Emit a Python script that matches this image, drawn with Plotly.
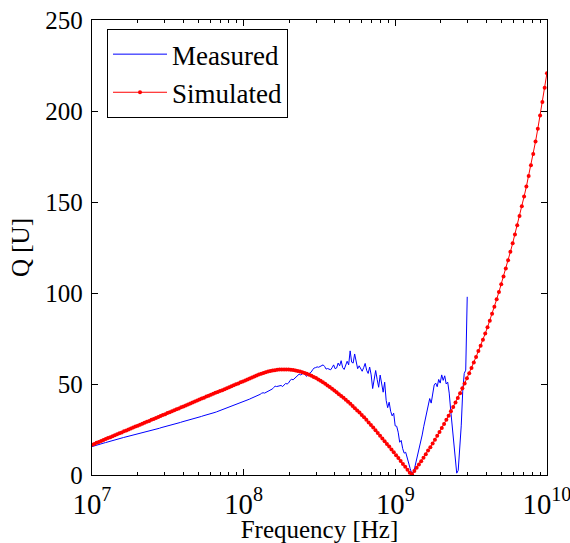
import numpy as np
import plotly.graph_objects as go

# simulated sweep: 200 log-spaced points, 10 MHz .. 10 GHz
freq_sim = np.logspace(7, 10, 200)
q_sim = [
    16.6, 17.1, 17.7, 18.2, 18.7, 19.2, 19.8, 20.3, 20.8, 21.3, 21.9, 22.4, 22.9, 23.4, 24.0, 24.5,
    25.0, 25.5, 26.1, 26.6, 27.1, 27.6, 28.2, 28.7, 29.2, 29.7, 30.3, 30.8, 31.3, 31.8, 32.4,
    32.9, 33.4, 34.0, 34.5, 35.0, 35.6, 36.1, 36.6, 37.2, 37.7, 38.2, 38.8, 39.3, 39.9, 40.4,
    40.9, 41.5, 42.0, 42.5, 43.1, 43.6, 44.1, 44.7, 45.2, 45.6,
    46.1, 46.6, 47.1, 47.6, 48.2, 48.7, 49.3, 49.8, 50.3, 50.9, 51.4, 51.9, 52.5, 53.0, 53.6,
    54.1, 54.7, 55.2, 55.7, 56.1, 56.5, 56.8, 57.1, 57.4, 57.6, 57.8, 57.9, 58.0, 58.0,
    58.0, 57.9, 57.8, 57.7, 57.4, 57.2, 56.9, 56.5, 56.1, 55.6, 55.1, 54.6, 53.9, 53.3, 52.5, 51.8,
    51.0, 50.1, 49.2, 48.3, 47.4, 46.4, 45.4, 44.4, 43.4, 42.4, 41.3, 40.2, 39.1, 37.9, 36.7,
    35.5, 34.3, 33.0, 31.7, 30.3, 28.9, 27.5, 26.1, 24.6, 23.1, 21.6, 20.1, 18.6, 17.1, 15.6,
    14.0, 12.5, 10.9, 9.3, 7.7, 6.1, 4.5, 2.9, 1.3, 0.4,
    2.2, 4.0, 5.8, 7.6, 9.5, 11.4, 13.4, 15.3, 17.3, 19.4, 21.5, 23.6, 25.8, 28.0, 30.3, 32.6,
    35.0, 37.4, 39.8, 42.3, 44.9, 47.6, 50.3, 53.1, 55.9, 58.8, 61.8, 64.9, 68.1,
    71.0, 74.3, 77.7, 81.2, 84.8, 88.6, 92.5, 96.5, 100.6, 104.8, 109.1, 113.5, 118.0, 122.6,
    127.3, 132.2, 137.2, 142.3, 147.6, 153.0, 158.5, 164.3, 170.2, 176.4, 183.2, 190.2, 197.5,
    205.0, 212.8, 220.8,
]

# measured: 251 log-spaced points, 10 MHz .. 2.98 GHz
freq_meas = np.logspace(7, np.log10(2.98e9), 251)
q_meas = [
    15.6, 15.9, 16.1, 16.4, 16.6, 16.9, 17.1, 17.3, 17.6, 17.8, 18.0, 18.3, 18.5, 18.8, 19.0,
    19.2, 19.5, 19.7, 19.9, 20.2, 20.4,
    20.6, 20.8, 21.0, 21.3, 21.5, 21.7, 21.9, 22.1, 22.3, 22.5, 22.7, 22.9, 23.1, 23.4, 23.6,
    23.8, 24.0, 24.2, 24.4, 24.6, 24.8, 25.0,
    25.3, 25.5, 25.7, 26.0, 26.2, 26.4, 26.6, 26.9, 27.1, 27.3, 27.6, 27.8, 28.0, 28.3, 28.5,
    28.7, 28.9, 29.2, 29.4, 29.6, 29.9, 30.1,
    30.3, 30.6, 30.8, 31.1, 31.3, 31.5, 31.8, 32.0, 32.2, 32.5, 32.7, 33.0, 33.2, 33.4, 33.7,
    33.9, 34.1, 34.4,
    34.7, 35.0, 35.4, 35.7, 36.0, 36.4, 36.7, 37.1, 37.4,
    37.6, 37.9, 38.2, 38.5, 38.8, 39.1, 39.3, 39.6, 39.9, 40.2, 40.5,
    40.9, 41.3, 41.7, 42.1, 42.4, 42.8, 43.2, 43.6, 44.0,
    44.3, 44.9, 45.2, 45.0, 45.4, 46.0, 46.3, 46.5, 47.2, 48.0, 48.8, 48.6, 48.9, 49.3, 49.2,
    48.6, 49.5, 50.3, 50.0, 50.6,
    52.0, 52.6, 52.3, 53.0, 53.6, 54.4, 55.4, 55.0, 55.6, 56.0, 55.0, 54.2, 55.3, 55.8, 56.5,
    57.8, 58.8, 59.0, 59.4, 59.2,
    59.8, 60.2, 60.5, 59.6, 58.2, 58.5, 57.9, 57.8, 59.0, 60.5, 58.4, 58.8, 61.5, 60.0, 62.8,
    59.0, 58.0, 61.0, 62.5, 60.5,
    68.2, 62.0, 61.5, 66.5, 62.0, 58.4, 60.0, 58.6, 57.0, 59.0, 61.3, 57.5, 55.8, 59.3, 55.0,
    47.5, 52.0, 57.4, 52.5, 48.2,
    54.9, 50.0, 45.5, 51.0, 41.0, 37.0, 40.0, 35.0, 32.5, 34.0, 27.0, 26.8, 23.5, 18.0, 19.0,
    14.5, 12.0, 12.5, 9.0, 5.5,
    3.5, 1.0, 1.5, 4.0, 7.5, 10.5, 14.5, 19.0, 22.0, 26.5, 30.5, 35.5, 39.0, 42.0, 39.5,
    46.0, 49.5, 50.5, 48.5, 52.5,
    50.5, 55.0, 52.0, 54.5, 50.0, 51.0, 45.0, 35.5, 26.0, 16.0, 7.5, 1.0, 2.5, 12.5, 27.0,
    46.0, 55.8, 57.6, 97.9,
]

fonte = dict(family='Liberation Serif', size=25, color='black')

fig = go.Figure()
fig.add_trace(go.Scatter(
    x=freq_meas,
    y=q_meas,
    name='Measured',
    mode='lines',
    line=dict(color='#0000ff', width=1)
))
fig.add_trace(go.Scatter(
    x=freq_sim,
    y=q_sim,
    name='Simulated',
    mode='lines+markers',
    line=dict(color='#ff0000', width=1),
    marker=dict(color='#ff0000', size=4)
))

fig.update_layout(
    width=570,
    height=543,
    margin=dict(l=92, r=23, t=20, b=68),
    plot_bgcolor='white',
    paper_bgcolor='white',
    font=fonte,
    showlegend=True,
    xaxis=dict(
        type='log',
        range=[7, 10.0003],
        dtick=1,
        exponentformat='power',
        tickfont=dict(size=23),
        showline=True,
        linecolor='black',
        linewidth=1.3,
        mirror='allticks',
        ticks='inside',
        ticklen=6,
        tickcolor='black',
        ticklabelstandoff=4,
        ticklabeloverflow='allow',
        minor=dict(ticks='inside', ticklen=3, tickcolor='black', dtick='D1'),
        showgrid=False,
        zeroline=False,
        automargin=False,
        title=dict(text='Frequency [Hz]', standoff=11, font=dict(size=25))),
    yaxis=dict(
        range=[0, 250.001],
        dtick=50,
        showline=True,
        linecolor='black',
        linewidth=1.3,
        mirror='allticks',
        ticks='inside',
        ticklen=6,
        tickcolor='black',
        ticklabelstandoff=3,
        ticklabeloverflow='allow',
        showgrid=False,
        zeroline=False,
        automargin=False,
        title=dict(text='Q [U]', standoff=8, font=dict(size=25))),
    legend=dict(
        x=0.033,
        y=0.980,
        xanchor='left',
        yanchor='top',
        bordercolor='black',
        borderwidth=1,
        bgcolor='white',
        font=dict(size=27),
        itemwidth=54)
)

# drop the default 8 px body margin so the figure fills the window
fig.write_html("out.html", config={'displayModeBar': False},
               post_script="document.body.style.margin='0px';")
